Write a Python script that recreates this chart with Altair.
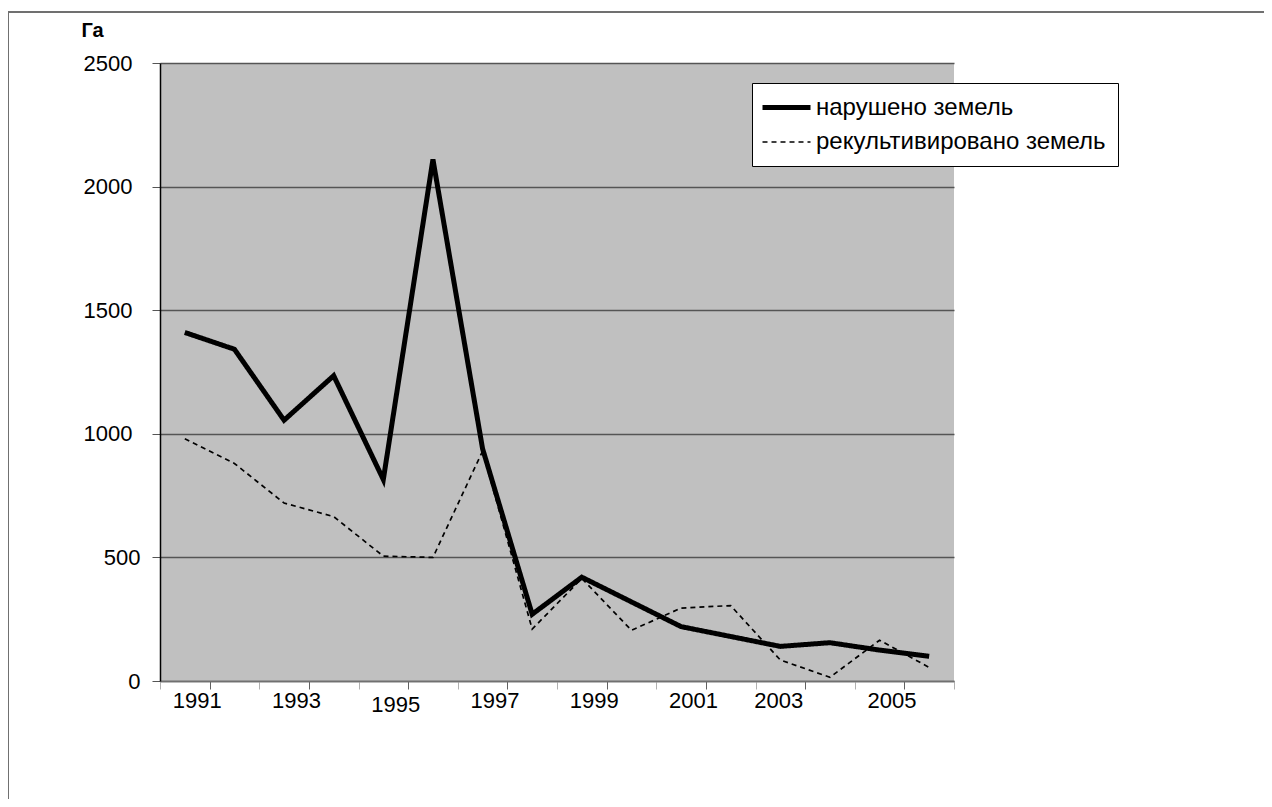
import altair as alt
import pandas as pd

years = ["1991", "1992", "1993", "1994", "1995", "1996", "1997", "1998",
         "1999", "2000", "2001", "2002", "2003", "2004", "2005", "2006"]
disturbed = [1410, 1342, 1055, 1235, 815, 2110, 940, 270,
             420, 320, 220, 180, 140, 155, 125, 100]
reclaimed = [980, 880, 720, 665, 505, 500, 930, 210,
             415, 205, 295, 305, 85, 15, 165, 55]
series_names = ["нарушено земель", "рекультивировано земель"]
y_ticks = [0, 500, 1000, 1500, 2000, 2500]

rows = []
for name, vals in zip(series_names, [disturbed, reclaimed]):
    for yr, v in zip(years, vals):
        rows.append({"year": yr, "value": v, "series": name})
df = pd.DataFrame(rows)

FONT = "Liberation Sans"

x_axis = alt.Axis(
    title=None,
    tickBand="extent",
    labelExpr="toNumber(datum.value) % 2 == 1 ? datum.value : ''",
    labelAngle=0,
    labelFont=FONT,
    labelFontSize=22,
    labelColor="black",
    labelOffset={"condition": {"test": "datum.value == '2003'", "value": -2}, "value": 12},
    labelPadding={"condition": {"test": "datum.value == '1995'", "value": 5}, "value": 1},
    tickSize=8,
    tickColor={"condition": {"test": "toNumber(datum.value) % 2 == 0", "value": "#b0b0b0"}, "value": "#606060"},
    domainColor="#707070",
    domainWidth=1.5,
    grid=False,
)

y_axis = alt.Axis(
    values=y_ticks,
    format="d",
    title="Га",
    titleAngle=0,
    titleFont=FONT,
    titleFontSize=20,
    titleFontWeight="bold",
    titleAlign="left",
    titleBaseline="top",
    titleX=-79,
    titleY=-43,
    labelFont=FONT,
    labelFontSize=22,
    labelColor="black",
    labelPadding={"condition": {"test": "datum.value >= 1000", "value": 20}, "value": 12},
    tickSize=8,
    tickColor="#555555",
    domainColor="black",
    domainWidth=1.5,
    grid=True,
    gridColor="#555555",
    gridWidth=1.5,
)

legend = alt.Legend(
    title=None,
    orient="none",
    legendX=592,
    legendY=20,
    fillColor="white",
    strokeColor="black",
    padding=12,
    rowPadding=10,
    symbolType="M-1.4,0H3.4",
    symbolSize=400,
    symbolStrokeColor="black",
    labelFont=FONT,
    labelFontSize=24,
    labelColor="black",
    labelOffset=27,
    labelLimit=500,
)

lines = alt.Chart(df).mark_line(color="black", strokeJoin="miter").encode(
    x=alt.X("year:O", scale=alt.Scale(type="band", paddingInner=0, paddingOuter=0), axis=x_axis),
    y=alt.Y("value:Q", scale=alt.Scale(domain=[0, 2500], nice=False), axis=y_axis),
    strokeDash=alt.StrokeDash(
        "series:N",
        scale=alt.Scale(domain=series_names, range=[[1, 0], [5, 4]]),
        legend=legend,
    ),
    strokeWidth=alt.StrokeWidth(
        "series:N",
        scale=alt.Scale(domain=series_names, range=[5, 1.7]),
        legend=legend,
    ),
)

frame = alt.Chart(pd.DataFrame({"f": [0]})).mark_rect(
    fill=None, fillOpacity=0, stroke="#707070", strokeWidth=2
).encode(
    x=alt.value(-152), x2=alt.value(1300),
    y=alt.value(-51), y2=alt.value(900),
)

chart = alt.layer(frame, lines).properties(
    width=794,
    height=618,
    padding={"left": 152, "top": 55, "right": 310, "bottom": 118},
    autosize=alt.AutoSizeParams(type="none"),
    background="white",
).configure_view(
    fill="#c0c0c0",
    stroke=None,
)

chart.save("out.html", embed_options={"renderer": "svg", "actions": False})
